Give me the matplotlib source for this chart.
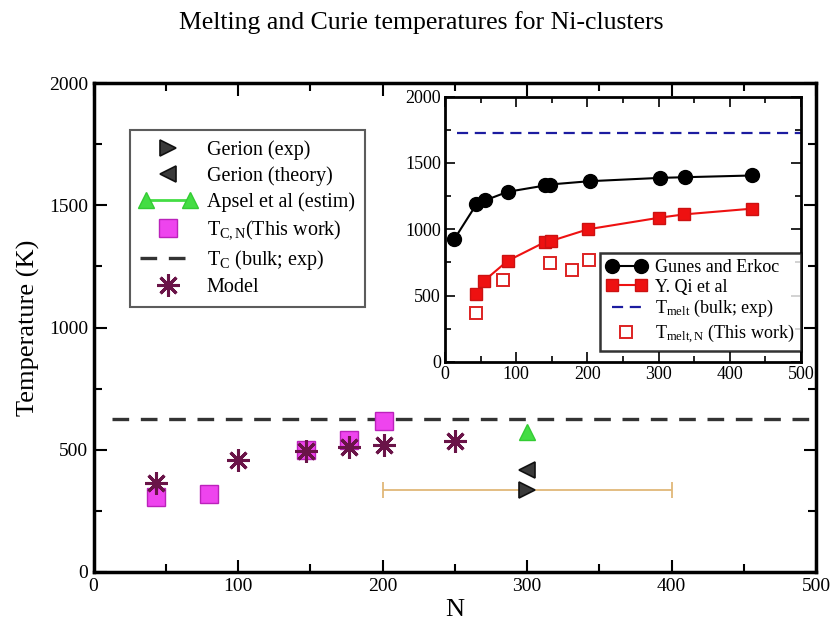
import matplotlib
matplotlib.use("Agg")
import matplotlib.pyplot as plt
from matplotlib.legend_handler import HandlerLine2D
from matplotlib.ticker import MultipleLocator

plt.rcParams['font.family'] = ['Liberation Serif', 'DejaVu Serif']
plt.rcParams['mathtext.fontset'] = 'custom'
plt.rcParams['mathtext.rm'] = 'Liberation Serif'
plt.rcParams['mathtext.it'] = 'Liberation Serif:italic'

# ---- main panel data (Curie temperatures) ----
tc_this_N = [43, 80, 147, 177, 201]
tc_this_T = [307, 317, 498, 538, 617]

model_N = [43, 100, 147, 177, 201, 250]
model_T = [364, 457, 495, 511, 518, 535]

apsel_N = [300]
apsel_T = [572]

gerion_th_N = [300]
gerion_th_T = [419]

gerion_exp_N = [300]
gerion_exp_T = [337]
gerion_exp_Nerr = [100]

tc_bulk = 627
tc_bulk_range = [13, 500]

# ---- inset data (melting temperatures) ----
gunes_N = [13, 44, 56, 88, 141, 147, 203, 302, 337, 431]
gunes_T = [925, 1187, 1217, 1282, 1330, 1337, 1362, 1387, 1392, 1405]

qi_N = [44, 55, 88, 141, 149, 201, 301, 336, 431]
qi_T = [512, 612, 762, 905, 912, 1000, 1087, 1112, 1155]

tm_this_N = [44, 81, 148, 178, 202]
tm_this_T = [367, 617, 742, 695, 770]

tm_bulk = 1728
tm_bulk_range = [17, 500]

W, H = 830, 622
fig = plt.figure(figsize=(W / 100, H / 100), dpi=100)


def fx(px):
    return px / W


def fy(py):
    return 1 - py / H


ax = fig.add_axes([fx(93.5), fy(572), fx(816) - fx(93.5), fy(83) - fy(572)])

ax.plot(tc_bulk_range, [tc_bulk, tc_bulk], ls=(0, (5, 3.5)), color='#333333', lw=2.4,
        label=r'T$_{\rm C}$ (bulk; exp)', zorder=2)

ax.errorbar(gerion_exp_N, gerion_exp_T, xerr=gerion_exp_Nerr, fmt='none',
            ecolor='#e0b878', elinewidth=1.3, capsize=6, capthick=1.3, zorder=3)
h_gexp, = ax.plot(gerion_exp_N, gerion_exp_T, ls='none', marker='>', ms=11,
                  mfc='#3a3a3a', mec='#111111', mew=1.2, label='Gerion (exp)', zorder=5)
h_gth, = ax.plot(gerion_th_N, gerion_th_T, ls='none', marker='<', ms=11,
                 mfc='#3a3a3a', mec='#111111', mew=1.2, label='Gerion (theory)', zorder=5)
h_ap, = ax.plot(apsel_N, apsel_T, ls='-', color='#44dd44', lw=2, marker='^', ms=11,
                mfc='#44dd44', mec='#33cc33', label='Apsel et al (estim)', zorder=5)
h_tc, = ax.plot(tc_this_N, tc_this_T, ls='none', marker='s', ms=13,
                mfc='#ee44ee', mec='#bb22bb', mew=1.0, label=r'T$_{\rm C,N}$(This work)', zorder=4)
h_mod, = ax.plot(model_N, model_T, ls='none', marker=(8, 2, 0), ms=16,
                 mec='#6a1448', mew=2.2, label='Model', zorder=6)
h_bulk = ax.get_lines()[0]

ax.set_xlim(0, 500)
ax.set_ylim(0, 2000)
ax.xaxis.set_major_locator(MultipleLocator(100))
ax.xaxis.set_minor_locator(MultipleLocator(50))
ax.yaxis.set_major_locator(MultipleLocator(500))
ax.yaxis.set_minor_locator(MultipleLocator(250))
ax.tick_params(which='both', direction='in', top=True, right=True, width=1.5)
ax.tick_params(which='major', length=9, labelsize=14, pad=4)
ax.tick_params(which='minor', length=6)
for s in ax.spines.values():
    s.set_linewidth(2.5)
ax.set_xlabel('N', fontsize=19, labelpad=3)
ax.set_ylabel('Temperature (K)', fontsize=19, labelpad=6)

leg = ax.legend([h_gexp, h_gth, h_ap, h_tc, h_bulk, h_mod],
                [h.get_label() for h in [h_gexp, h_gth, h_ap, h_tc, h_bulk, h_mod]],
                loc='upper left', bbox_to_anchor=(fx(130), fy(130)),
                bbox_transform=fig.transFigure, fontsize=14.5, numpoints=1,
                handler_map={h_ap: HandlerLine2D(numpoints=2)},
                frameon=True, fancybox=False, edgecolor='#333333',
                handlelength=2.8, handletextpad=0.5, labelspacing=0.32,
                borderpad=0.5, borderaxespad=0)
leg.get_frame().set_linewidth(1.5)

fig.text(0.507, fy(23), 'Melting and Curie temperatures for Ni-clusters',
         ha='center', va='center', fontsize=18.5)

# ---- inset ----
axi = fig.add_axes([fx(445), fy(362), fx(801) - fx(445), fy(96.5) - fy(362)])
axi.set_zorder(5)
i_bulk, = axi.plot(tm_bulk_range, [tm_bulk, tm_bulk], ls=(0, (5, 3)), color='#1c1ca0', lw=1.6,
                   label=r'T$_{\rm melt}$ (bulk; exp)')
i_g, = axi.plot(gunes_N, gunes_T, '-', color='black', lw=1.5, marker='o', ms=10,
                label='Gunes and Erkoc')
i_q, = axi.plot(qi_N, qi_T, '-', color='#ee1111', lw=1.5, marker='s', ms=8,
                mec='#cc1111', label='Y. Qi et al')
i_t, = axi.plot(tm_this_N, tm_this_T, ls='none', marker='s', ms=8, mfc='white',
                mec='#dd2222', mew=1.4, label=r'T$_{\rm melt,N}$ (This work)')
axi.set_xlim(0, 500)
axi.set_ylim(0, 2000)
axi.xaxis.set_major_locator(MultipleLocator(100))
axi.xaxis.set_minor_locator(MultipleLocator(50))
axi.yaxis.set_major_locator(MultipleLocator(500))
axi.yaxis.set_minor_locator(MultipleLocator(250))
axi.tick_params(which='both', direction='in', top=True, right=True, width=1.2)
axi.tick_params(which='major', length=7, labelsize=13, pad=3)
axi.tick_params(which='minor', length=4)
for s in axi.spines.values():
    s.set_linewidth(2)

ileg = axi.legend([i_g, i_q, i_bulk, i_t], [h.get_label() for h in [i_g, i_q, i_bulk, i_t]],
                  loc='lower right', bbox_to_anchor=(1.0, 0.04), numpoints=2,
                  handler_map={i_t: HandlerLine2D(numpoints=1)},
                  fontsize=13, frameon=True, fancybox=False, edgecolor='black',
                  handlelength=2.2, handletextpad=0.5, labelspacing=0.15,
                  borderpad=0.35, borderaxespad=0)
ileg.get_frame().set_linewidth(1.8)

fig.savefig('out.png', dpi=100)
